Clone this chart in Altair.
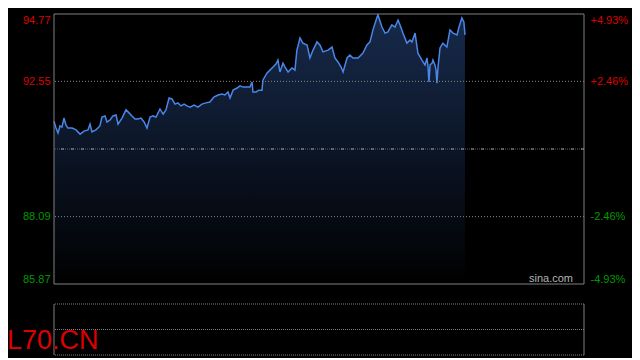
import altair as alt
import pandas as pd

symbol = "L70.CN"
watermark = "sina.com"
session_minutes = 240
prev_close = 90.32
price_ticks = [94.77, 92.55, 88.09, 85.87]
pct_ticks = [4.93, 2.46, -2.46, -4.93]
grid_prices = [92.55, 88.09]
vol_levels = [0, 1, 2]

minutes = [
    0, 0.9, 1.8, 2.7, 3.6, 4.5, 5.4, 6.3, 8.2, 10.0,
    11.8, 13.6, 15.4, 16.3, 17.2, 19.0, 20.8, 21.7, 23.1, 24.0,
    25.4, 26.7, 28.1, 29.0, 30.8, 32.6, 34.0, 35.3, 36.7, 38.0,
    39.4, 40.8, 42.1, 43.5, 44.8, 46.2, 48.0, 49.4, 50.7, 52.1,
    53.4, 54.8, 56.1, 57.5, 58.9, 60.2, 61.6, 63.4, 65.2, 67.0,
    68.8, 70.6, 72.4, 74.3, 76.1, 77.4, 78.8, 79.7, 81.1, 82.9,
    84.2, 85.6, 87.4, 88.7, 89.7, 90.1, 91.5, 92.8, 94.2, 94.6,
    96.4, 97.8, 99.2, 100.5, 101.4, 102.3, 103.7, 104.6, 106.0, 107.8,
    109.1, 110.0, 111.4, 112.7, 114.6, 115.9, 117.3, 119.1, 120.4, 121.8,
    124.1, 125.9, 127.2, 128.6, 130.0, 130.9, 132.7, 134.0, 135.4, 137.7,
    139.9, 141.7, 143.1, 144.4, 146.3, 146.7, 148.5, 149.9, 151.2, 153.0,
    154.4, 155.8, 156.7, 158.0, 159.8, 161.2, 162.1, 163.5, 164.4, 164.8,
    166.6, 168.0, 168.9, 169.3, 169.8, 170.3, 171.2, 171.6, 172.5, 173.0,
    173.4, 173.9, 174.8, 176.1, 177.9, 179.3, 180.7, 182.5, 183.4, 184.7,
    185.6, 186.1,
]
prices = [
    91.24, 91.01, 90.85, 91.08, 91.04, 91.34, 91.11, 91.01, 91.01, 90.95,
    90.81, 90.91, 90.95, 91.14, 90.88, 90.95, 91.08, 91.37, 91.41, 91.21,
    91.28, 91.41, 91.44, 91.14, 91.34, 91.61, 91.51, 91.41, 91.31, 91.31,
    91.34, 91.21, 91.01, 91.37, 91.41, 91.37, 91.64, 91.47, 91.61, 92.00,
    91.97, 91.80, 91.84, 91.74, 91.80, 91.74, 91.70, 91.77, 91.70, 91.80,
    91.84, 91.87, 92.03, 92.10, 92.13, 92.10, 92.20, 92.00, 92.26, 92.33,
    92.40, 92.36, 92.36, 92.36, 92.53, 92.20, 92.20, 92.26, 92.26, 92.59,
    92.82, 92.92, 93.02, 93.12, 93.25, 92.86, 93.15, 93.02, 92.86, 92.99,
    92.92, 93.58, 93.98, 93.81, 93.75, 93.32, 93.58, 93.85, 93.75, 93.52,
    93.58, 93.68, 93.32, 93.19, 93.02, 92.86, 93.32, 93.42, 93.32, 93.32,
    93.48, 93.75, 93.85, 94.24, 94.67, 94.74, 94.34, 94.14, 94.18, 94.41,
    94.34, 94.57, 94.41, 94.14, 93.81, 93.91, 93.85, 94.14, 93.68, 93.48,
    93.25, 93.09, 93.32, 93.09, 92.53, 93.09, 93.15, 93.25, 93.09, 92.92,
    92.49, 93.02, 93.65, 93.81, 93.68, 94.24, 94.14, 94.08, 94.34, 94.64,
    94.51, 94.08,
]

RED = "#dd0000"
GREEN = "#009900"
GREY = "#808080"
FONT = "Liberation Sans"

pmin, pmax = min(price_ticks), max(price_ticks)
PLOT_W, MAIN_H, TOTAL_H = 530, 270, 341

x_scale = alt.Scale(domain=[0, session_minutes], nice=False, zero=False)
price_scale = alt.Scale(domain=[pmin, pmax], range=[MAIN_H, 0], zero=False, nice=False)
pct_scale = alt.Scale(domain=[min(pct_ticks), max(pct_ticks)], range=[MAIN_H, 0], zero=False, nice=False)
vol_scale = alt.Scale(domain=[min(vol_levels), max(vol_levels)], range=[TOTAL_H, 290], nice=False)

left_axis = alt.Axis(
    values=price_ticks, orient="left", domain=False, ticks=False, grid=False,
    labelFlush=True, labelFlushOffset=0, labelPadding=4, labelFont=FONT,
    labelFontSize=11, labelOverlap=False, format=".2f", title=None,
    labelColor={"condition": {"test": f"datum.value > {prev_close}", "value": RED}, "value": GREEN},
)
right_axis = alt.Axis(
    values=pct_ticks, orient="right", domain=False, ticks=False, grid=False,
    labelFlush=True, labelFlushOffset=0, labelPadding=6, labelFont=FONT,
    labelFontSize=11, labelOverlap=False, title=None,
    labelExpr="(datum.value > 0 ? '+' : '-') + format(abs(datum.value), '.2f') + '%'",
    labelColor={"condition": {"test": "datum.value > 0", "value": RED}, "value": GREEN},
)

price_y = alt.Y("price:Q", scale=price_scale, axis=left_axis)

intraday = pd.DataFrame({"t": minutes, "price": prices})
base = alt.Chart(intraday).encode(x=alt.X("t:Q", scale=x_scale, axis=None))

area = base.mark_area(
    color=alt.Gradient(
        gradient="linear",
        stops=[alt.GradientStop(color="#172a4c", offset=0),
               alt.GradientStop(color="#000000", offset=1)],
        x1=1, x2=1, y1=0, y2=1,
    )
).encode(y=price_y, y2=alt.datum(pmin))

line = base.mark_line(color="#4a86e8", strokeWidth=1.5).encode(y=price_y)

grid = alt.Chart(pd.DataFrame({"price": grid_prices})).mark_rule(
    color="#888888", strokeDash=[1, 2], strokeWidth=1
).encode(y=price_y)

border_h = alt.Chart(pd.DataFrame({"price": [pmax, pmin]})).mark_rule(
    color=GREY, strokeWidth=1
).encode(y=price_y)

border_v = alt.Chart(pd.DataFrame({"t": [0, session_minutes]})).mark_rule(
    color=GREY, strokeWidth=1
).encode(
    x=alt.X("t:Q", scale=x_scale, axis=None),
    y=alt.datum(pmin), y2=alt.datum(pmax),
)

price_layer = alt.layer(area, line, grid, border_h, border_v)

prev_df = pd.DataFrame({"pct": [0.0]})
pct_y = alt.Y("pct:Q", scale=pct_scale, axis=right_axis)
prev_dots = alt.Chart(prev_df).mark_rule(
    color="#5a5a5a", strokeDash=[1, 1], strokeWidth=1
).encode(y=pct_y)
prev_dash = alt.Chart(prev_df).mark_rule(
    color="#a0a0a0", strokeDash=[3, 7], strokeWidth=1
).encode(y=pct_y)
pct_layer = alt.layer(prev_dots, prev_dash)

vol_h = alt.Chart(pd.DataFrame({"vol": vol_levels})).mark_rule(
    color=GREY, strokeDash=[1, 1], strokeWidth=1
).encode(y=alt.Y("vol:Q", scale=vol_scale, axis=None))

vol_v = alt.Chart(pd.DataFrame({"t": [0, session_minutes]})).mark_rule(
    color=GREY, strokeWidth=1
).encode(
    x=alt.X("t:Q", scale=x_scale, axis=None),
    y=alt.datum(min(vol_levels)), y2=alt.datum(max(vol_levels)),
)
vol_layer = alt.layer(vol_h, vol_v)

sym_text = alt.Chart(pd.DataFrame({"s": [symbol]})).mark_text(
    font=FONT, fontSize=27, color=RED, align="left", baseline="alphabetic"
).encode(text="s:N", x=alt.value(-47), y=alt.value(335))

wm_text = alt.Chart(pd.DataFrame({"s": [watermark]})).mark_text(
    font=FONT, fontSize=11, color="#b4b4b4", align="right", baseline="middle"
).encode(text="s:N", x=alt.value(519), y=alt.value(265))

page_css = (
    "html,body{background:#000;overflow:hidden;}"
    ".vega-embed{position:relative;display:inline-block;box-sizing:border-box;}"
    ".vega-embed:focus,.vega-embed svg:focus{outline:none;}"
    "#vg-tooltip-element{display:none;}"
    "body>*:not(#vis){display:none;}"
    "#vis>*:not(svg){display:none;}"
)

chart = alt.layer(price_layer, pct_layer, vol_layer, sym_text, wm_text).resolve_scale(
    y="independent"
).properties(
    width=PLOT_W, height=TOTAL_H,
    autosize=alt.AutoSizeParams(type="none"),
    padding={"left": 46, "top": 6, "right": 48, "bottom": 3},
    background="#000000",
    usermeta={"embedOptions": {"defaultStyle": page_css}},
).configure_view(stroke="transparent")

chart.save("out.html", embed_options={"renderer": "svg", "actions": False})
